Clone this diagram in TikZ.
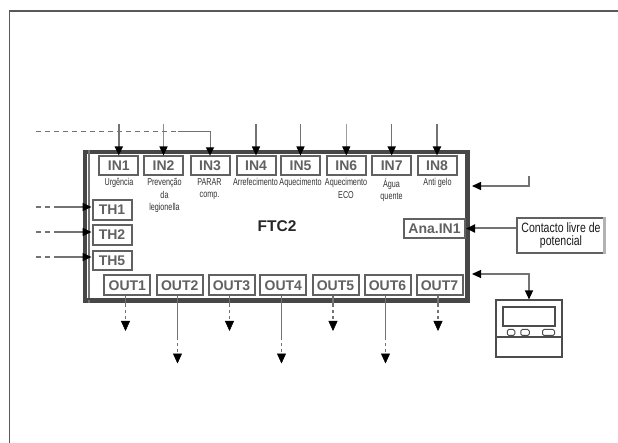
\documentclass[tikz,border=0pt]{standalone}
\usepackage{fontspec}
\usetikzlibrary{arrows.meta,calc}
\setmainfont{Liberation Sans}
\newfontfamily\narrowf[FakeStretch=0.78]{Liberation Sans}
\newfontfamily\capf[FakeStretch=0.72]{Liberation Sans}
\definecolor{boxgray}{gray}{0.38}
\definecolor{linegray}{gray}{0.45}
\tikzset{
  frameline/.style={draw=black!65,line width=1.2},
  boxbase/.style={draw=boxgray,line width=2,fill=white,inner sep=0pt,minimum height=19,font=\bfseries\fontsize{14}{14}\selectfont,text=black!62},
  inbox/.style={boxbase,minimum width=39},
  thbox/.style={boxbase,minimum width=39},
  outbox/.style={boxbase,minimum width=46,minimum height=20},
  caption/.style={font=\capf\fontsize{10}{12.2}\selectfont,align=center,text=black!80,inner sep=0pt,anchor=north},
  conn/.style={draw=linegray,line width=1.5,-{Triangle[length=9,width=8,fill=black,color=black]}},
  connboth/.style={draw=linegray,line width=1.2,{Triangle[length=9,width=8,fill=black,color=black]}-{Triangle[length=9,width=8,fill=black,color=black]}},
  thinconn/.style={draw=linegray,line width=1,-{Triangle[length=8,width=8,fill=black,color=black]}},
  dashpart/.style={draw=linegray,line width=1,dash pattern=on 5 off 4},
  outdash/.style={draw=linegray,line width=1.3,dash pattern=on 3 off 3},
  outhead/.style={draw=black,line width=0.5,-{Triangle[length=10,width=9,fill=black,color=black]}},
  remote/.style={draw=black!70,line width=1.1,inner sep=0pt,fill=white},
  framepart/.style={draw=black!72,inner sep=0pt}
}
\begin{document}
\begin{tikzpicture}[x=1pt,y=-1pt]
\useasboundingbox (0,0) rectangle (618,443);
\fill[white] (0,0) rectangle (618,443);
% page frame
\coordinate (pgA) at (9.5,443);
\coordinate (pgB) at (9.5,11);
\coordinate (pgC) at (618,11);
\draw[frameline] (pgA) -- (pgB) -- (pgC);
% main box
\node[framepart,line width=3.4,minimum width=383,minimum height=149] (main) at (276.5,226.5) {};
\draw[draw=black!55,line width=2.4] ([xshift=5.5]main.north west) -- ([xshift=5.5]main.south west);
\draw[draw=black!72,line width=1.6] ([yshift=3.5]main.south west) -- ([yshift=3.5]main.south east);
\draw[draw=black!72,line width=2.6] ([xshift=-3]main.north east) -- ([xshift=-3]main.south east);
\node[font=\bfseries\fontsize{15.5}{15.5}\selectfont,text=black!85,inner sep=0pt] (ftc) at (277,226) {FTC2};
% inputs
\node[inbox] (in1) at (118.8,166) {IN1};
\node[inbox] (in2) at (163.5,166) {IN2};
\node[inbox] (in3) at (210,166) {IN3};
\node[inbox] (in4) at (256,166) {IN4};
\node[inbox] (in5) at (300.5,166) {IN5};
\node[inbox] (in6) at (346.3,166) {IN6};
\node[inbox] (in7) at (391.7,166) {IN7};
\node[inbox] (in8) at (437,166) {IN8};
\node[caption] (c1) at (119,178.5) {Urgência};
\node[caption] (c2) at (164.5,178.5) {Prevenção\\da\\legionella};
\node[caption] (c3) at (209.5,178.5) {PARAR\\comp.};
\node[caption] (c4) at (255.5,178.5) {Arrefecimento};
\node[caption] (c5) at (300.5,178.5) {Aquecimento};
\node[caption] (c6) at (346,178.5) {Aquecimento\\ECO};
\node[caption] (c7) at (391.5,178.5) {Água\\quente};
\node[caption] (c8) at (437.5,178.5) {Anti gelo};
% sensors
\node[thbox,minimum height=20] (th1) at (112,210) {TH1};
\node[thbox,minimum height=20] (th2) at (112,235) {TH2};
\node[thbox,minimum height=19] (th5) at (112,260.5) {TH5};
% analog
\node[boxbase,minimum width=61] (ana) at (434.5,228.5) {Ana.IN1};
\node[draw=boxgray,line width=1.5,fill=white,minimum width=88,minimum height=35,inner sep=0pt,align=center,font=\narrowf\fontsize{13.5}{13.5}\selectfont,text=black!90] (free) at (561,235.5) {Contacto livre de\\potencial};
\draw[draw=black!30,line width=3] ([xshift=-1.5]free.north east) -- ([xshift=-1.5]free.south east);
% outputs
\node[outbox] (o1) at (127.3,285.5) {OUT1};
\node[outbox] (o2) at (179.7,285.5) {OUT2};
\node[outbox] (o3) at (231.5,285.5) {OUT3};
\node[outbox] (o4) at (283.3,285.5) {OUT4};
\node[outbox] (o5) at (335.5,285.5) {OUT5};
\node[outbox] (o6) at (387.5,285.5) {OUT6};
\node[outbox] (o7) at (439.5,285.5) {OUT7};
% top connectors
\coordinate (t1) at (118.8,124);
\coordinate (t2) at (163.5,124);
\coordinate (t4) at (256,124);
\coordinate (t5) at (300.5,124);
\coordinate (t6) at (346.3,124);
\coordinate (t7) at (391.7,124);
\coordinate (t8) at (437,124);
\draw[conn] (t1) -- (in1.north);
\draw[conn,draw=linegray!80] (t2) -- (in2.north);
\draw[conn] (t4) -- (in4.north);
\draw[conn] (t5) -- (in5.north);
\draw[conn,line width=1,draw=linegray!70] (t6) -- (in6.north);
\draw[conn] (t7) -- (in7.north);
\draw[conn,line width=1.8] (t8) -- (in8.north);
\coordinate (d0) at (36,131.5);
\coordinate (d1) at (178,131.5);
\coordinate (d2) at (210,131.5);
\draw[dashpart] (d0) -- (d1);
\draw[thinconn] (d1) -- (d2) -- (in3.north);
% left connectors
\coordinate (s1) at (36,207);
\coordinate (m1) at (56,207);
\coordinate (s2) at (36,232);
\coordinate (m2) at (56,232);
\coordinate (s3) at (36,257);
\coordinate (m3) at (56,257);
\draw[dashpart,line width=1.4] (s1) -- (m1);
\draw[dashpart,line width=1.4] (s2) -- (m2);
\draw[dashpart,line width=1.4] (s3) -- (m3);
\draw[conn] (m1) -- ([yshift=3]th1.west);
\draw[conn] (m2) -- ([yshift=3]th2.west);
\draw[conn] (m3) -- ([yshift=3.5]th5.west);
% right connectors
\coordinate (r0) at (529,176.5);
\coordinate (r1) at (529,186);
\coordinate (r2) at (472,186);
\draw[conn] (r0) -- (r1) -- (r2);
\draw[conn,line width=2] (free.west |- ana.east) -- (ana.east);
% outputs connectors
\coordinate (e1) at (125.5,331);
\coordinate (e2) at (177.5,363.5);
\coordinate (e3) at (229.5,331);
\coordinate (e4) at (281.5,363.5);
\coordinate (e5) at (333,331);
\coordinate (e6) at (385.5,363.5);
\coordinate (e7) at (438,331);
\coordinate (f1) at (125.5,304);
\coordinate (f2) at (177.5,337);
\coordinate (f3) at (229.5,304);
\coordinate (f4) at (281.5,337);
\coordinate (f5) at (333,304);
\coordinate (f6) at (385.5,337);
\coordinate (f7) at (438,304);
\foreach \a/\b/\c in {o1/f1/e1,o2/f2/e2,o3/f3/e3,o4/f4/e4,o5/f5/e5,o6/f6/e6,o7/f7/e7}{
  \draw[draw=linegray,line width=1.5] (\a.south -| \b) -- (\b);
  \draw[outdash] (\b) -- ($(\c)+(0,-9)$);
  \draw[outhead] ($(\c)+(0,-10)$) -- (\c);
}
% remote
\node[remote,minimum width=66,minimum height=57] (rem) at (529,328.5) {};
\node[draw=black!70,line width=1.2,inner sep=0pt,minimum width=52,minimum height=19] (screen) at (529,316.5) {};
\node[draw=black!70,line width=1,rounded corners=1.5,inner sep=0pt,minimum width=7.5,minimum height=6] (b1) at (511,332.5) {};
\node[draw=black!70,line width=1,rounded corners=1.5,inner sep=0pt,minimum width=8.5,minimum height=6] (b2) at (525,332.5) {};
\node[draw=black!70,line width=1,rounded corners=1.5,inner sep=0pt,minimum width=12,minimum height=6] (b3) at (548.5,332.5) {};
\coordinate (divy) at (0,337);
\draw[draw=black!70,line width=1.1] (rem.west |- divy) -- (rem.east |- divy);
\coordinate (q0) at (472,274);
\coordinate (q1) at (529,274);
\draw[connboth] (q0) -- (q1) -- (rem.north);
\end{tikzpicture}
\end{document}
